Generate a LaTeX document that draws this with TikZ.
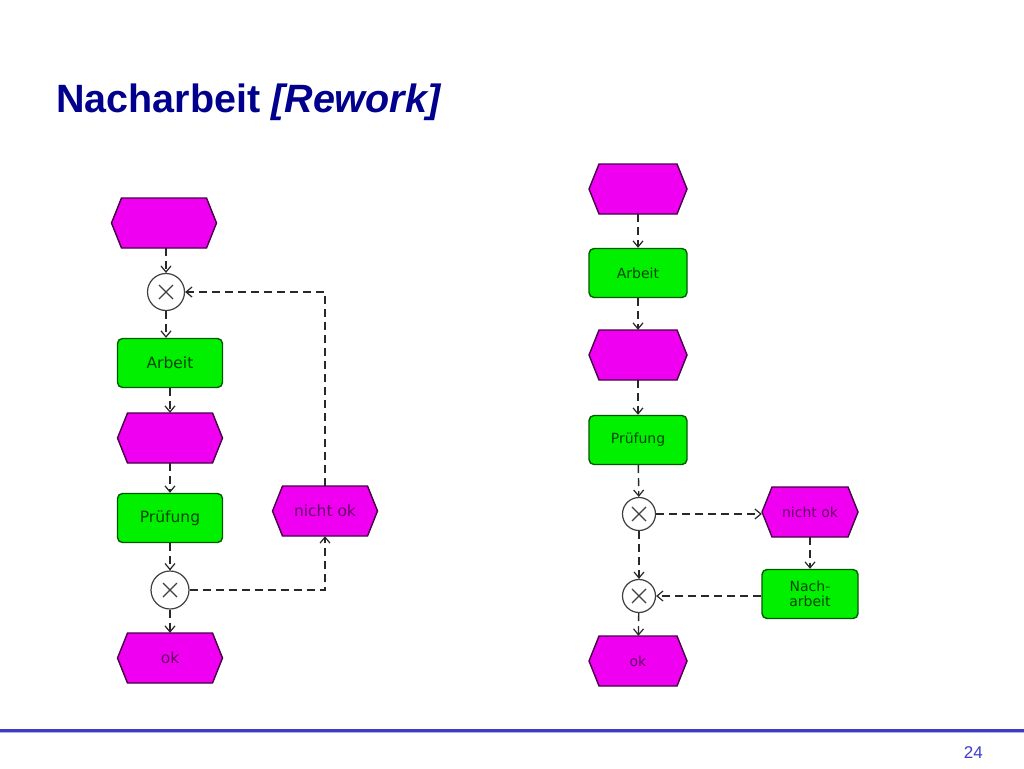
\documentclass[tikz,border=0pt]{standalone}
\usepackage{fontspec}
\setmainfont{Liberation Sans}
\newfontfamily\boxfont{DejaVu Sans}
\usetikzlibrary{arrows.meta,calc}
\definecolor{titleblue}{RGB}{0,0,140}
\definecolor{lineblue}{RGB}{60,60,200}
\definecolor{evfill}{RGB}{240,0,240}
\definecolor{evdraw}{RGB}{70,0,70}
\definecolor{evtext}{RGB}{100,0,100}
\definecolor{fnfill}{RGB}{0,240,0}
\definecolor{fndraw}{RGB}{0,90,0}
\definecolor{fntext}{RGB}{0,70,0}
\definecolor{conncol}{RGB}{40,40,40}
\tikzset{
  bigfont/.style={font=\boxfont\fontsize{15.5}{17}\selectfont},
  smallfont/.style={font=\boxfont\fontsize{14}{15.5}\selectfont},
  fnbox/.style={rectangle, rounded corners=5pt, fill=fnfill, draw=fndraw, line width=1.4pt,
    minimum width=#1, minimum height=49pt, inner sep=0pt, text=fntext, align=center},
  fnbox/.default=105pt,
  evbox/.style={rectangle, minimum width=#1, minimum height=50pt, inner sep=0pt, text=evtext},
  evbox/.default=105pt,
  xorgate/.style={circle, fill=white, draw=black!75, line width=1.2pt, minimum size=#1, inner sep=0pt},
  xorgate/.default=37pt,
  conn/.style={draw=conncol, line width=1.4pt, dash pattern=on 8pt off 5pt, -{Straight Barb[length=6pt,width=10pt,line width=1.2pt]}},
}
% event hexagon: name, cx, cy, width, text, font style
\newcommand{\evtnode}[6]{%
  \filldraw[fill=evfill, draw=evdraw, line width=1.4pt, line join=miter] ({#2-#4/2},#3) -- ({#2-#4/2+10},{#3-25}) -- ({#2+#4/2-10},{#3-25}) -- ({#2+#4/2},#3)
     -- ({#2+#4/2-10},{#3+25}) -- ({#2-#4/2+10},{#3+25}) -- cycle;
  \node[evbox=#4pt, #6] (#1) at (#2,#3) {#5};}
\newcommand{\xornode}[4]{%
  \node[xorgate=#4pt] (#1) at (#2,#3) {};
  \draw[black!75, line width=1.2pt] ($(#1)+(-7,-7)$) -- ($(#1)+(7,7)$) ($(#1)+(-7,7)$) -- ($(#1)+(7,-7)$);}
\begin{document}
\begin{tikzpicture}[x=1pt,y=-1pt]
\useasboundingbox (0,0) rectangle (1024,768);
\fill[white] (0,0) rectangle (1024,768);
% title
\node[anchor=base west, inner sep=0pt, text=titleblue, font=\bfseries\fontsize{39.5}{44}\selectfont] (title) at (56,112) {Nacharbeit \textit{[Rework]}};
% footer
\draw[lineblue, line width=3pt] (0,730) -- (1024,730);
\draw[lineblue!40, line width=1pt] (0,732.5) -- (1024,732.5);
\node[anchor=base east, inner sep=0pt, text=lineblue, font=\fontsize{17}{19}\selectfont] (pg) at (983,758) {24};

% ---------- left diagram ----------
\evtnode{e1}{164}{223}{105}{}{bigfont}
\xornode{x1}{166}{292}{37}
\node[fnbox, bigfont] (a1) at (170,363) {Arbeit};
\evtnode{e2}{170}{438}{105}{}{bigfont}
\node[fnbox, bigfont] (p1) at (170,518) {Prüfung};
\xornode{x2}{170}{590}{38}
\evtnode{ok1}{170}{658}{105}{ok}{bigfont}
\evtnode{n1}{325}{511}{105}{nicht ok}{bigfont}

\draw[conn] (e1.south -| x1) -- (x1);
\draw[conn] (x1) -- (a1.north -| x1);
\draw[conn] (a1) -- (e2);
\draw[conn] (e2) -- (p1);
\draw[conn] (p1) -- (x2);
\draw[conn] (x2) -- (ok1);
\draw[conn] (x2) -| (n1);
\draw[conn] (n1) |- (x1);

% ---------- right diagram ----------
\evtnode{e3}{638}{189}{98}{}{smallfont}
\node[fnbox=98pt, smallfont] (a2) at (638,273) {Arbeit};
\evtnode{e4}{638}{355}{98}{}{smallfont}
\node[fnbox=98pt, smallfont] (p2) at (638,440) {Prüfung};
\xornode{x3}{639}{514}{33}
\evtnode{n2}{810}{512}{96}{nicht ok}{smallfont}
\node[fnbox=96pt, smallfont] (na) at (810,594) {Nach-\\arbeit};
\xornode{x4}{639}{596}{33}
\evtnode{ok2}{638}{661}{98}{ok}{smallfont}

\draw[conn] (e3) -- (a2);
\draw[conn] (a2) -- (e4);
\draw[conn] (e4) -- (p2);
\draw[conn] (p2) -- (x3);
\draw[conn] (x3) -- (n2.west |- x3);
\draw[conn] (n2) -- (na);
\draw[conn] (na.west |- x4) -- (x4);
\draw[conn] (x3) -- (x4);
\draw[conn] (x4) -- (ok2);
\end{tikzpicture}
\end{document}
